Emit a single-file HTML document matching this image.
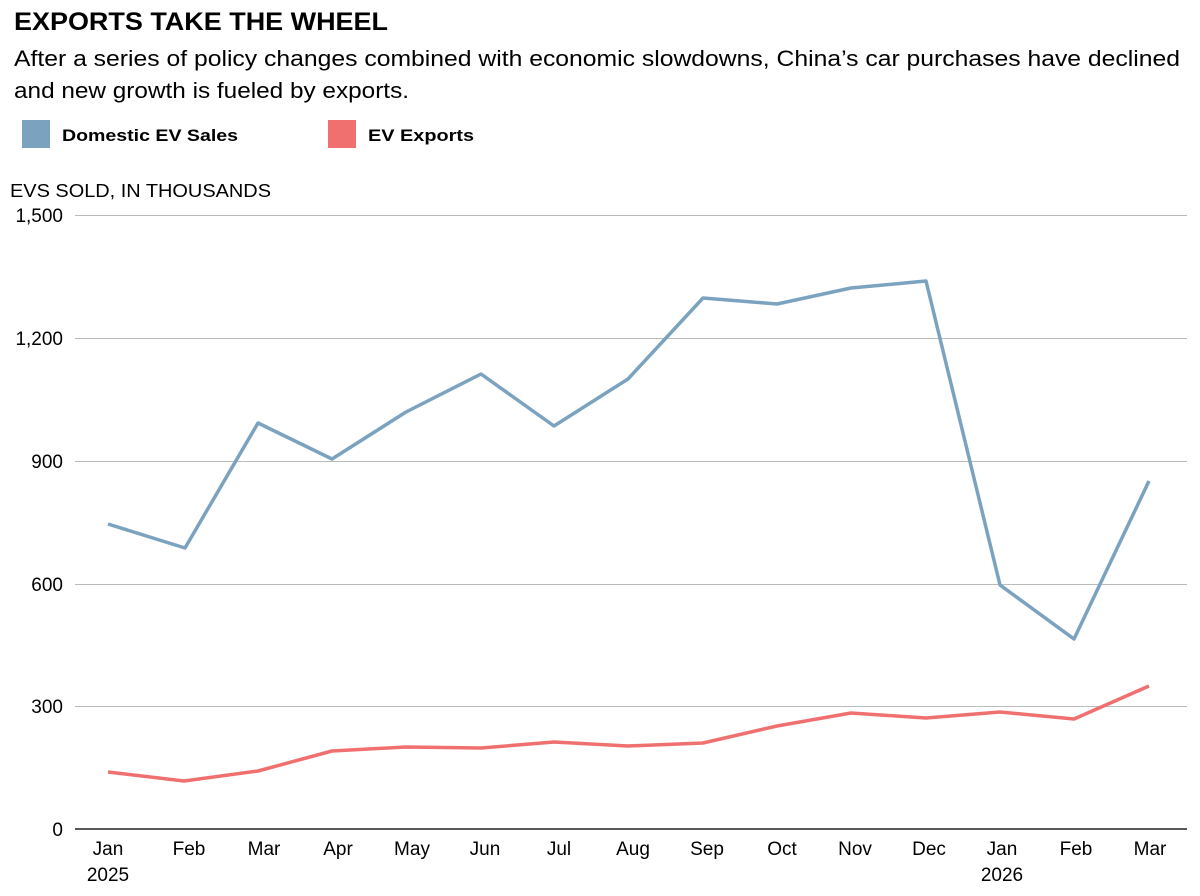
<!DOCTYPE html>
<html><head><meta charset="utf-8"><style>
body{margin:0;background:#fff;width:1200px;height:891px;overflow:hidden;font-family:"Liberation Sans",sans-serif;color:#111}
</style></head><body>
<svg width="1200" height="891" xmlns="http://www.w3.org/2000/svg" font-family="Liberation Sans, sans-serif">
<text x="14" y="30" font-size="25" font-weight="bold" textLength="374" lengthAdjust="spacingAndGlyphs">EXPORTS TAKE THE WHEEL</text>
<text x="14" y="66" font-size="22" textLength="1166" lengthAdjust="spacingAndGlyphs">After a series of policy changes combined with economic slowdowns, China’s car purchases have declined</text>
<text x="14" y="98" font-size="22" textLength="395" lengthAdjust="spacingAndGlyphs">and new growth is fueled by exports.</text>
<rect x="22" y="120" width="28" height="28" fill="#7ba3c0"/>
<text x="62" y="141" font-size="17" font-weight="bold" textLength="176" lengthAdjust="spacingAndGlyphs">Domestic EV Sales</text>
<rect x="328" y="120" width="28" height="28" fill="#f07070"/>
<text x="368" y="141" font-size="17" font-weight="bold" textLength="106" lengthAdjust="spacingAndGlyphs">EV Exports</text>
<text x="10" y="197" font-size="18" textLength="261" lengthAdjust="spacingAndGlyphs">EVS SOLD, IN THOUSANDS</text>
<g stroke="#bbb" stroke-width="1">
<line x1="75" x2="1187" y1="215.5" y2="215.5"/><line x1="75" x2="1187" y1="338.5" y2="338.5"/>
<line x1="75" x2="1187" y1="461.5" y2="461.5"/><line x1="75" x2="1187" y1="584.5" y2="584.5"/>
<line x1="75" x2="1187" y1="706.5" y2="706.5"/>
</g>
<line x1="75" x2="1187" y1="829" y2="829" stroke="#222" stroke-width="1.5"/>
<g font-size="19" text-anchor="end">
<text x="63" y="222">1,500</text><text x="63" y="345">1,200</text><text x="63" y="468">900</text>
<text x="63" y="591">600</text><text x="63" y="713">300</text><text x="63" y="836">0</text>
</g>
<g font-size="19" text-anchor="middle">
<text x="108" y="855">Jan</text><text x="108" y="881">2025</text>
<text x="189" y="855">Feb</text><text x="264" y="855">Mar</text><text x="338" y="855">Apr</text>
<text x="412" y="855">May</text><text x="485" y="855">Jun</text><text x="559" y="855">Jul</text>
<text x="633" y="855">Aug</text><text x="707" y="855">Sep</text><text x="782" y="855">Oct</text>
<text x="855" y="855">Nov</text><text x="929" y="855">Dec</text>
<text x="1002" y="855">Jan</text><text x="1002" y="881">2026</text>
<text x="1076" y="855">Feb</text><text x="1150" y="855">Mar</text>
</g>
<polyline fill="none" stroke="#7ba3c0" stroke-width="3.5" stroke-linejoin="round" points="108,524 185,548 258,423 332,459 406,412 481,374 554,426 628,379 703,298 777,304 851,288 926,281 1000,585 1074,639 1149,481"/>
<polyline fill="none" stroke="#f07070" stroke-width="3.5" stroke-linejoin="round" points="108,772 184,781 258,771 332,751 406,747 481,748 554,742 628,746 703,743 777,726 851,713 926,718 1000,712 1074,719 1149,686"/>
</svg>
</body></html>
